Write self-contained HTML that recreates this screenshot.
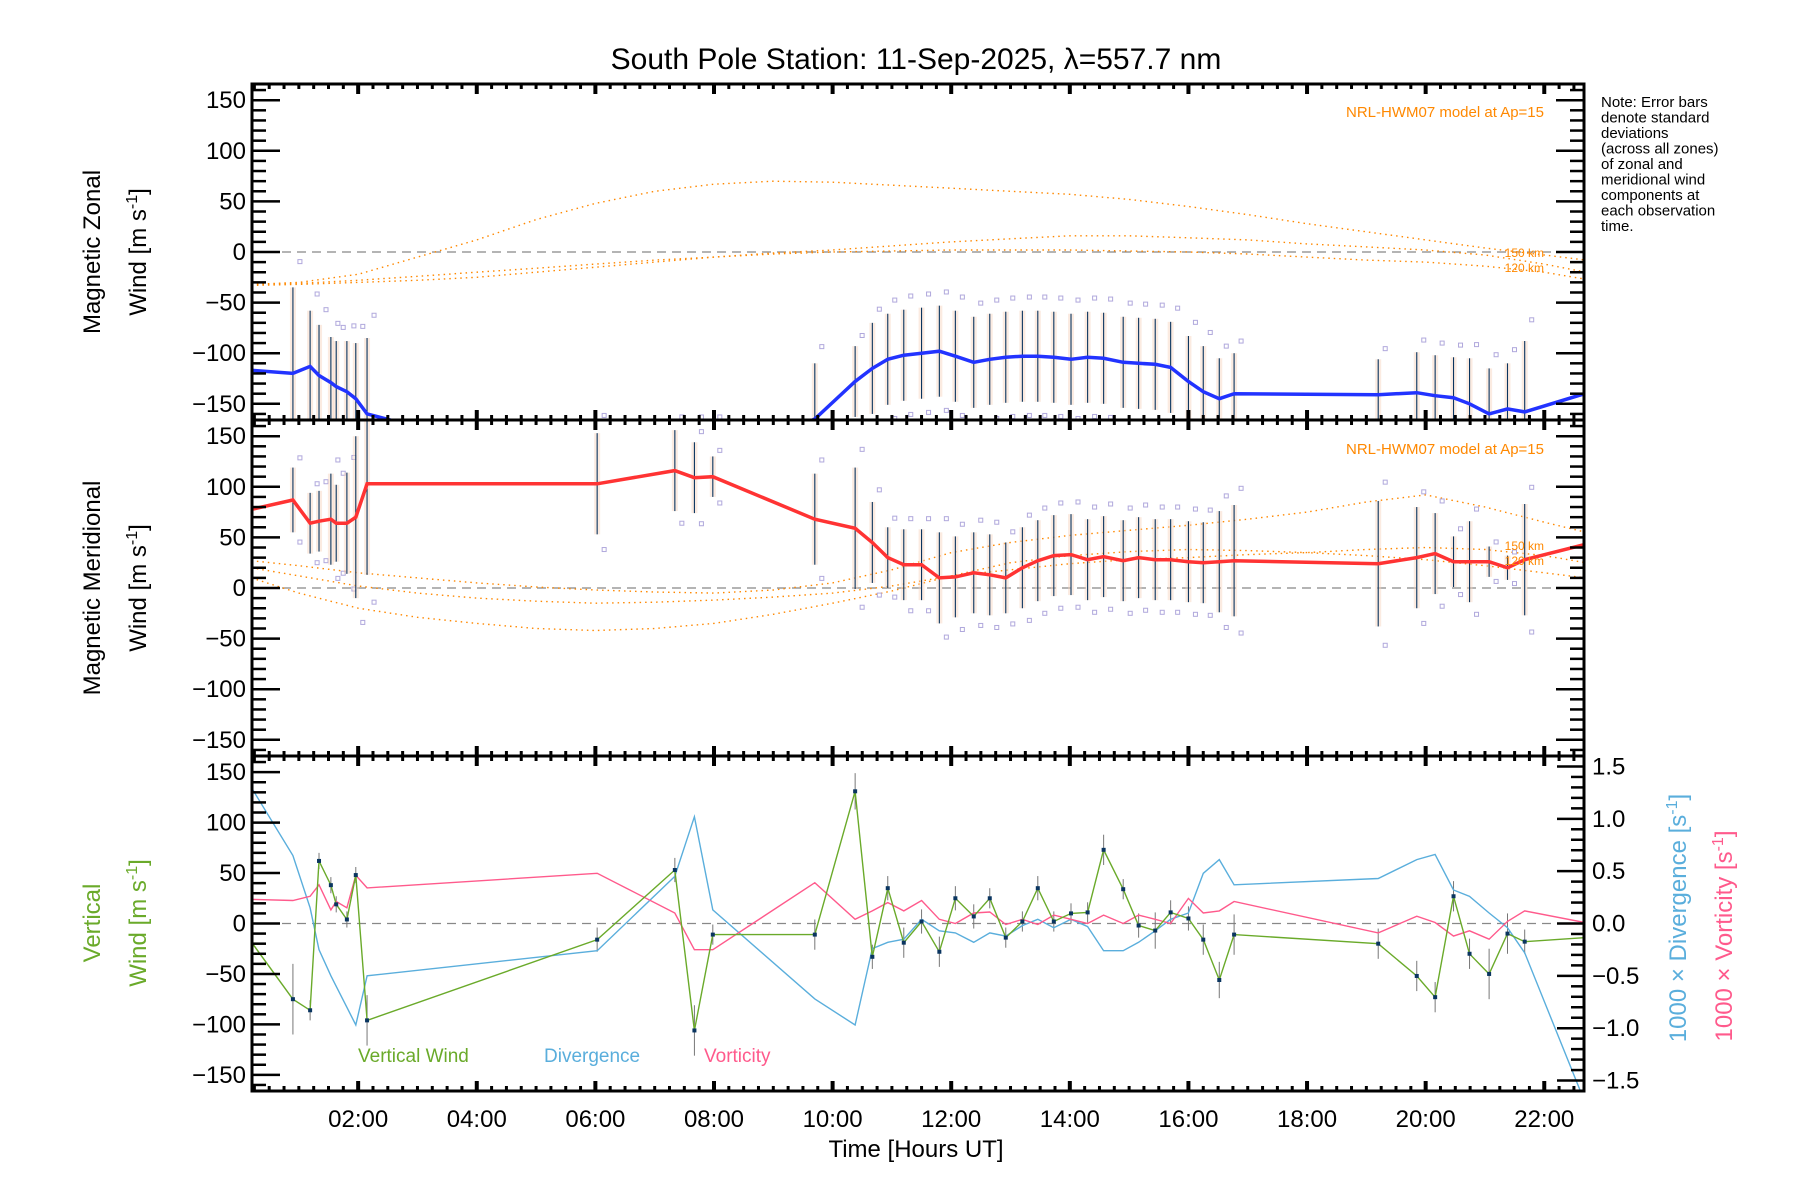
<!DOCTYPE html>
<html><head><meta charset="utf-8"><style>
html,body{margin:0;padding:0;background:#fff;}
svg{display:block;font-family:"Liberation Sans",sans-serif;}
</style></head><body>
<svg id="chart" width="1800" height="1200" viewBox="0 0 1800 1200" xmlns="http://www.w3.org/2000/svg">
<defs>
<clipPath id="c1"><rect x="252" y="84" width="1332" height="336"/></clipPath>
<clipPath id="c2"><rect x="252" y="420" width="1332" height="336"/></clipPath>
<clipPath id="c3"><rect x="252" y="756" width="1332" height="335"/></clipPath>
</defs>
<text x="916" y="69" font-size="30" text-anchor="middle">South Pole Station: 11-Sep-2025, λ=557.7 nm</text>
<g id="g"></g>
<text font-size="15" x="1601" y="107">
<tspan x="1601" dy="0">Note: Error bars</tspan><tspan x="1601" dy="15.5">denote standard</tspan><tspan x="1601" dy="15.5">deviations</tspan><tspan x="1601" dy="15.5">(across all zones)</tspan><tspan x="1601" dy="15.5">of zonal and</tspan><tspan x="1601" dy="15.5">meridional wind</tspan><tspan x="1601" dy="15.5">components at</tspan><tspan x="1601" dy="15.5">each observation</tspan><tspan x="1601" dy="15.5">time.</tspan></text>
<text font-size="24" text-anchor="middle" transform="translate(100,252) rotate(-90)">Magnetic Zonal</text>
<text font-size="24" text-anchor="middle" transform="translate(146,252) rotate(-90)">Wind [m s<tspan dy="-9" font-size="16">-1</tspan><tspan dy="9">]</tspan></text>
<text font-size="24" text-anchor="middle" transform="translate(100,588) rotate(-90)">Magnetic Meridional</text>
<text font-size="24" text-anchor="middle" transform="translate(146,588) rotate(-90)">Wind [m s<tspan dy="-9" font-size="16">-1</tspan><tspan dy="9">]</tspan></text>
<text font-size="24" fill="#6aaa2a" text-anchor="middle" transform="translate(100,923) rotate(-90)">Vertical</text>
<text font-size="24" fill="#6aaa2a" text-anchor="middle" transform="translate(146,923) rotate(-90)">Wind [m s<tspan dy="-9" font-size="16">-1</tspan><tspan dy="9">]</tspan></text>
<text font-size="24" fill="#5aaedc" text-anchor="middle" transform="translate(1686,918) rotate(-90)">1000 × Divergence [s<tspan dy="-9" font-size="16">-1</tspan><tspan dy="9">]</tspan></text>
<text font-size="24" fill="#ff5a8c" text-anchor="middle" transform="translate(1732,936) rotate(-90)">1000 × Vorticity [s<tspan dy="-9" font-size="16">-1</tspan><tspan dy="9">]</tspan></text>
<text x="916" y="1157" font-size="24" text-anchor="middle">Time [Hours UT]</text>
<text x="358" y="1062" font-size="19" fill="#6aaa2a">Vertical Wind</text>
<text x="544" y="1062" font-size="19" fill="#5aaedc">Divergence</text>
<text x="704" y="1062" font-size="19" fill="#ff5a8c">Vorticity</text>
<text x="1544" y="117" font-size="15" fill="#ff8800" text-anchor="end">NRL-HWM07 model at Ap=15</text>
<text x="1544" y="454" font-size="15" fill="#ff8800" text-anchor="end">NRL-HWM07 model at Ap=15</text>
<text x="1544" y="257" font-size="12" fill="#ff8800" text-anchor="end">150 km</text>
<text x="1544" y="272" font-size="12" fill="#ff8800" text-anchor="end">120 km</text>
<text x="1544" y="550" font-size="12" fill="#ff8800" text-anchor="end">150 km</text>
<text x="1544" y="565" font-size="12" fill="#ff8800" text-anchor="end">120 km</text>
</svg>
<script>
const times=[0.22,0.9,1.19,1.34,1.54,1.63,1.81,1.96,2.15,6.03,7.34,7.67,7.98,9.7,10.38,10.67,10.93,11.2,11.5,11.8,12.07,12.38,12.65,12.92,13.2,13.46,13.73,14.02,14.3,14.57,14.9,15.16,15.44,15.7,16.0,16.25,16.52,16.77,19.2,19.85,20.16,20.47,20.74,21.07,21.38,21.67,22.68];
const zonal=[-117,-120,-113,-122,-129,-133,-138,-145,-160,-220,-215,-215,-215,-165,-128,-115,-106,-102,-100,-98,-103,-109,-106,-104,-103,-103,-104,-106,-104,-105,-109,-110,-111,-114,-128,-138,-145,-140,-141,-139,-142,-144,-150,-160,-155,-158,-140];
const zonalStd=[0,85,55,50,45,45,50,55,75,45,40,40,40,55,35,45,45,45,45,45,45,45,45,45,45,45,45,45,45,45,45,45,45,45,45,45,40,40,35,40,40,40,45,45,45,70,0];
const merid=[78,87,64,66,68,64,64,70,103,103,116,109,110,68,59,45,30,23,23,10,11,15,13,10,20,27,32,33,28,31,27,30,28,28,26,25,26,27,24,30,34,26,26,26,20,28,43];
const meridStd=[0,32,30,30,45,38,50,80,90,50,40,35,20,45,60,40,30,35,35,45,40,40,40,35,40,40,40,40,40,40,40,40,40,40,40,40,50,55,62,50,40,25,40,15,12,55,0];
const vert=[-20,-75,-86,62,38,19,4,48,-96,-16,53,-106,-11,-11,131,-33,35,-19,2,-28,25,7,25,-14,2,35,2,10,11,73,34,-2,-7,11,5,-16,-56,-11,-20,-52,-73,27,-30,-50,-10,-18,-14];
const vertStd=[0,35,10,8,8,8,8,8,25,12,12,25,10,15,18,12,12,15,12,15,12,12,10,10,10,12,10,10,10,15,10,12,18,12,12,15,18,20,15,15,15,15,15,25,20,12,0];
const div=[1.28,0.65,0.15,-0.25,-0.5,-0.6,-0.8,-0.97,-0.5,-0.26,0.45,1.02,0.13,-0.72,-0.97,-0.24,-0.18,-0.15,0.04,-0.07,-0.09,-0.18,-0.09,-0.12,-0.02,0.04,-0.04,0.04,-0.03,-0.26,-0.26,-0.18,-0.07,0.04,0.1,0.48,0.61,0.37,0.43,0.61,0.66,0.32,0.26,0.1,-0.04,-0.28,-1.7];
const vort=[0.23,0.22,0.26,0.37,0.13,0.21,0.15,0.46,0.34,0.48,0.1,-0.25,-0.25,0.39,0.04,0.12,0.2,0.12,0.22,0.04,0,0.1,0.11,-0.01,0.04,-0.01,0.08,0.04,0,0.08,0,0.08,0.04,0,0.24,0.1,0.12,0.21,-0.09,0.07,0.01,-0.12,-0.07,-0.15,0.02,0.12,0.01];
const hwmHours=[0.2,1,2,3,4,5,6,7,8,9,10,11,12,13,14,15,16,17,18,19,20,21,22,22.7];
const zonA=[-32,-30,-22,-5,12,32,48,60,67,70,69,66,63,60,57,52,45,37,28,20,12,4,-3,-8];
const zonB=[-32,-31,-28,-24,-20,-16,-12,-8,-5,-2,0,1,2,2,2,1,0,-2,-5,-8,-10,-14,-20,-27];
const zonC=[-33,-32,-30,-28,-25,-20,-15,-10,-5,-1,2,6,10,13,16,16,14,12,8,5,2,-3,-12,-20];
const merA=[27,22,15,10,5,1,-2,-4,-5,-2,5,18,35,45,52,57,62,68,75,85,92,80,65,55];
const merB=[20,12,2,-5,-10,-13,-15,-14,-12,-9,-5,2,12,18,24,28,30,33,35,38,40,38,32,25];
const merC=[10,-5,-20,-29,-35,-40,-42,-40,-35,-26,-15,-3,12,25,32,36,38,37,35,32,28,22,15,10];
const xTickHours=[2,4,6,8,10,12,14,16,18,20,22];
const xTickLabels=["02:00","04:00","06:00","08:00","10:00","12:00","14:00","16:00","18:00","20:00","22:00"];
const leftTicks=[150,100,50,0,-50,-100,-150];
const leftTickLabels=["150","100","50","0","\u221250","\u2212100","\u2212150"];
const rightTicks=[1.5,1.0,0.5,0.0,-0.5,-1.0,-1.5];
const rightTickLabels=["1.5","1.0","0.5","0.0","\u22120.5","\u22121.0","\u22121.5"];

const NS='http://www.w3.org/2000/svg';
const X0=252,X1=1584,H0=0.21,H1=22.67;
const P=[{top:84,bot:420},{top:420,bot:756},{top:756,bot:1091}];
const X=h=>X0+(h-H0)/(H1-H0)*(X1-X0);
const Y=(p,v)=>{const c=(P[p].top+P[p].bot)/2;return c-v*(P[p].bot-P[p].top)/332;};
const YR=v=>{const c=(P[2].top+P[2].bot)/2;return c-v*(P[2].bot-P[2].top)/3.2;};
const g=document.getElementById('g');
function mk(tag,attrs,parent){const e=document.createElementNS(NS,tag);for(const k in attrs)e.setAttribute(k,attrs[k]);(parent||g).appendChild(e);return e;}
function poly(xs,ys,fy,attrs,clip,name){
  const pts=xs.map((h,i)=>X(h).toFixed(1)+','+fy(ys[i]).toFixed(1)).join(' ');
  const e=mk('polyline',Object.assign({points:pts,fill:'none','clip-path':'url(#'+clip+')'},attrs));
  
  
  return e;
}
for(let p=0;p<3;p++){
  const z=mk('line',{x1:X0,x2:X1,y1:Y(p,0),y2:Y(p,0),stroke:'#888','stroke-width':1.3,'stroke-dasharray':'9,6'});
  
  
}
[[zonA,0,'hwm-zonal-a'],[zonB,0,'hwm-zonal-b'],[zonC,0,'hwm-zonal-c'],[merA,1,'hwm-merid-a'],[merB,1,'hwm-merid-b'],[merC,1,'hwm-merid-c']].forEach(([arr,p,n])=>{
  poly(hwmHours,arr,v=>Y(p,v),{stroke:'#ff8800','stroke-width':1.4,'stroke-dasharray':'1.5,4'},'c'+(p+1),n);
});
function bars(vals,std,p,name){
  times.forEach((h,i)=>{
    if(!std[i])return;
    const x=X(h);
    const bg=mk('rect',{x:x-3,y:Y(p,vals[i]+std[i]),width:6,height:Y(p,vals[i]-std[i])-Y(p,vals[i]+std[i]),fill:'#f7d2bc',opacity:0.45,'clip-path':'url(#c'+(p+1)+')'});
    
    
    const l=mk('line',{x1:x,x2:x,y1:Y(p,vals[i]+std[i]),y2:Y(p,vals[i]-std[i]),stroke:'#0a3560','stroke-width':1.1,'clip-path':'url(#c'+(p+1)+')'});
    
    
    [1.3,-1.3].forEach(f=>{
      const s=mk('rect',{x:x+5,y:Y(p,vals[i]+std[i]*f)-2,width:4,height:4,fill:'none',stroke:'#b0a8dc','stroke-width':1,'clip-path':'url(#c'+(p+1)+')'});
      
      
    });
  });
}
bars(zonal,zonalStd,0,'zonal-error-bar');
bars(merid,meridStd,1,'merid-error-bar');
poly(times,zonal,v=>Y(0,v),{stroke:'#2233ff','stroke-width':3.5},'c1','zonal-wind-line');
poly(times,merid,v=>Y(1,v),{stroke:'#ff3333','stroke-width':3.5},'c2','merid-wind-line');
times.forEach((h,i)=>{
  if(!vertStd[i])return;
  const l=mk('line',{x1:X(h),x2:X(h),y1:Y(2,vert[i]+vertStd[i]),y2:Y(2,vert[i]-vertStd[i]),stroke:'#777','stroke-width':1,'clip-path':'url(#c3)'});
  
  
});
poly(times,div,YR,{stroke:'#5aaedc','stroke-width':1.4},'c3','divergence-line');
poly(times,vort,YR,{stroke:'#ff5a8c','stroke-width':1.4},'c3','vorticity-line');
poly(times,vert,v=>Y(2,v),{stroke:'#6aaa2a','stroke-width':1.4},'c3','vertical-wind-line');
times.forEach((h,i)=>{
  if(i===0||i===times.length-1)return;
  const d=mk('rect',{x:X(h)-2,y:Y(2,vert[i])-2,width:4,height:4,fill:'#0a3560'});
  
  
});
for(let p=0;p<3;p++){
  const t=P[p].top,b=P[p].bot;
  const fr=mk('rect',{x:X0,y:t,width:X1-X0,height:b-t,fill:'none',stroke:'#000','stroke-width':3});
  
  
  for(let v=-160;v<=160;v+=10){
    const y=Y(p,v); if(y<t+1||y>b-1)continue;
    const len=(v%50===0)?28:14;
    const tl=mk('line',{x1:X0,x2:X0+len,y1:y,y2:y,stroke:'#000','stroke-width':2.5});
    
    
    if(p<2){
      const tr=mk('line',{x1:X1,x2:X1-len,y1:y,y2:y,stroke:'#000','stroke-width':2.5});
      
      
    }
  }
  for(let h=0.25;h<H1;h+=0.25){
    if(h<H0)continue;
    const major=Math.abs(h/2-Math.round(h/2))<1e-6;
    const len=major?10:5, w=major?4:3;
    [[t,1],[b,-1]].forEach(([yy,d])=>{
      const tk=mk('line',{x1:X(h),x2:X(h),y1:yy,y2:yy+d*len,stroke:'#000','stroke-width':w});
      
      
    });
  }
  leftTicks.forEach((v,i)=>{
    const tx=mk('text',{x:X0-6,y:Y(p,v)+8,'font-size':24,'text-anchor':'end'});
    tx.textContent=leftTickLabels[i];
    
    
  });
}
for(let v=-1.6;v<=1.6001;v+=0.1){
  const y=YR(v); if(y<P[2].top+1||y>P[2].bot-1)continue;
  const len=(Math.abs(v*2-Math.round(v*2))<1e-6)?27:13;
  const tr=mk('line',{x1:X1,x2:X1-len,y1:y,y2:y,stroke:'#000','stroke-width':2.5});
  
  
}
rightTicks.forEach((v,i)=>{
  const tx=mk('text',{x:X1+8,y:YR(v)+8,'font-size':24});
  tx.textContent=rightTickLabels[i];
  
  
});
xTickHours.forEach((h,i)=>{
  const tx=mk('text',{x:X(h),y:1127,'font-size':24,'text-anchor':'middle'});
  tx.textContent=xTickLabels[i];
  
  
});
</script>
</body></html>
